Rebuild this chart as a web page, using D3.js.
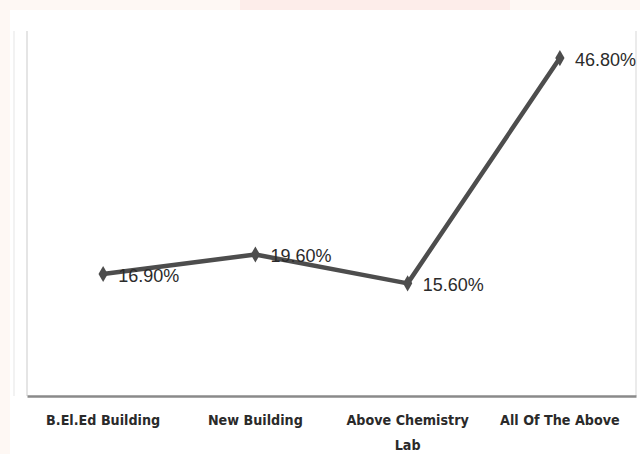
<!DOCTYPE html>
<html><head><meta charset="utf-8">
<script src="https://cdn.jsdelivr.net/npm/d3@7"></script>
<style>html,body{margin:0;padding:0;background:#fef8f4;}svg{display:block;}</style>
</head><body>
<script>
const categories = ["B.El.Ed Building", "New Building", "Above Chemistry Lab", "All Of The Above"];
const tickLines = [["B.El.Ed Building"], ["New Building"], ["Above Chemistry", "Lab"], ["All Of The Above"]];
const values = [16.9, 19.6, 15.6, 46.8];
const valueLabels = ["16.90%", "19.60%", "15.60%", "46.80%"];

const W = 640, H = 454;
const svg = d3.select("body").append("svg").attr("width", W).attr("height", H);

// page background pieces
svg.append("rect").attr("x", 0).attr("y", 0).attr("width", W).attr("height", H).attr("fill", "#fef8f4");
svg.append("rect").attr("x", 240).attr("y", 0).attr("width", 270).attr("height", 10).attr("fill", "#fdedea");
svg.append("rect").attr("x", 10).attr("y", 10).attr("width", W - 10).attr("height", H - 10).attr("fill", "#ffffff");

const pLeft = 27, pRight = 636, pTop = 31, pBase = 396;
const x = d3.scaleBand().domain(categories).range([pLeft, pRight]).padding(0);
const y = d3.scaleLinear().domain([0, 50]).range([pBase, 35]);

// faint frame lines
svg.append("line").attr("x1", 14).attr("x2", 14).attr("y1", pTop).attr("y2", pBase).attr("stroke", "#eeeeee").attr("stroke-width", 1.5);
svg.append("line").attr("x1", pLeft).attr("x2", pLeft).attr("y1", pTop).attr("y2", pBase).attr("stroke", "#dddddd").attr("stroke-width", 1.5);
svg.append("line").attr("x1", pRight).attr("x2", pRight).attr("y1", pTop).attr("y2", pBase).attr("stroke", "#e4e4e4").attr("stroke-width", 1.5);

// x axis
const xAxis = svg.append("g").attr("transform", `translate(0,${pBase})`)
  .call(d3.axisBottom(x).tickSize(0).tickPadding(0));
xAxis.select(".domain").attr("stroke", "#8a8a8a").attr("stroke-width", 2.5);
xAxis.selectAll(".tick text").each(function(d, i) {
  const t = d3.select(this);
  t.text(null).attr("y", 0).attr("dy", null)
   .attr("font-family", "'DejaVu Sans Condensed','DejaVu Sans',sans-serif")
   .attr("font-weight", "bold").attr("font-size", 14.2).attr("fill", "#2a2a2a");
  tickLines[i].forEach((ln, j) => {
    t.append("tspan").attr("x", 0).attr("y", 29 + j * 25).text(ln);
  });
});

// line
const line = d3.line().x((d, i) => x(categories[i]) + x.bandwidth() / 2).y(d => y(d));
svg.append("path").datum(values).attr("d", line).attr("fill", "none")
  .attr("stroke", "#4d4d4d").attr("stroke-width", 4.5).attr("stroke-linejoin", "round");

svg.selectAll(".mk").data(values).join("path").attr("class", "mk")
  .attr("d", d3.symbol(d3.symbolDiamond, 75))
  .attr("transform", (d, i) => `translate(${x(categories[i]) + x.bandwidth() / 2},${y(d)})`)
  .attr("fill", "#4d4d4d");

svg.selectAll(".lbl").data(values).join("text").attr("class", "lbl")
  .attr("x", (d, i) => x(categories[i]) + x.bandwidth() / 2 + 15)
  .attr("y", d => y(d) + 2)
  .attr("dominant-baseline", "central")
  .attr("font-family", "'Liberation Sans',Arial,sans-serif")
  .attr("font-size", 18).attr("fill", "#2b2b2b")
  .text((d, i) => valueLabels[i]);
</script>
</body></html>
